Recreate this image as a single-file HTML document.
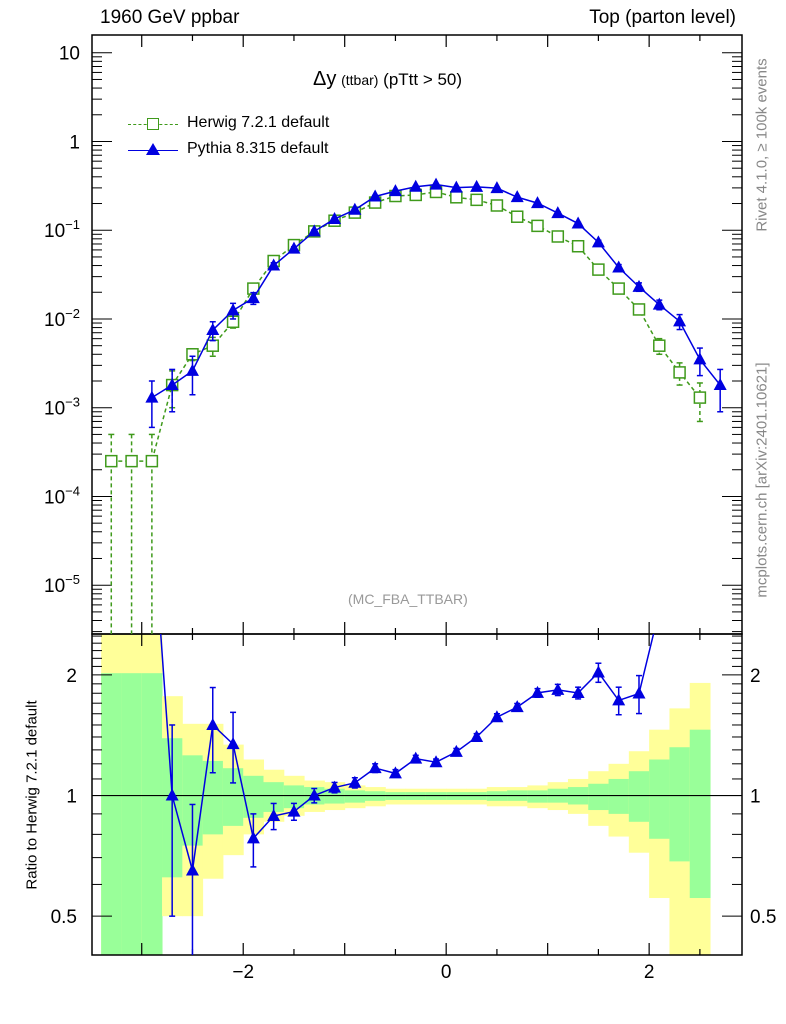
<!DOCTYPE html>
<html><head><meta charset="utf-8"><style>
body{margin:0;background:#fff;}
svg{display:block;font-family:"Liberation Sans",sans-serif;}
</style></head><body>
<svg id="c" width="786" height="1024"></svg>
<script>
const xCenters=[-3.3,-3.1,-2.9,-2.7,-2.5,-2.3,-2.1,-1.9,-1.7,-1.5,-1.3,-1.1,-0.9,-0.7,-0.5,-0.3,-0.1,0.1,0.3,0.5,0.7,0.9,1.1,1.3,1.5,1.7,1.9,2.1,2.3,2.5,2.7];
const herwig=[2.5e-4,2.5e-4,2.5e-4,1.8e-3,4.0e-3,5.0e-3,9.3e-3,0.022,0.045,0.068,0.097,0.128,0.158,0.205,0.243,0.25,0.27,0.235,0.22,0.19,0.142,0.112,0.085,0.066,0.036,0.022,0.0128,0.005,0.0025,0.0013,null];
const herwigErr=[2.5e-4,2.5e-4,2.5e-4,0.0008,0.0006,0.0012,0.0014,0.002,0.002,0.002,0.002,0.002,0.002,0.003,0.003,0.003,0.003,0.003,0.003,0.003,0.003,0.002,0.002,0.002,0.002,0.002,0.0015,0.001,0.0007,0.0006,null];
const pythia=[null,null,1.3e-3,1.8e-3,2.6e-3,7.5e-3,0.0125,0.0172,0.040,0.062,0.097,0.134,0.170,0.240,0.276,0.309,0.327,0.302,0.308,0.298,0.236,0.202,0.156,0.119,0.073,0.038,0.023,0.0145,0.0094,0.0035,0.0018];
const pythiaErr=[null,null,0.0007,0.0009,0.0012,0.0018,0.0025,0.0026,0.003,0.003,0.004,0.004,0.005,0.006,0.006,0.006,0.006,0.006,0.006,0.006,0.005,0.005,0.005,0.004,0.004,0.003,0.0025,0.0018,0.0018,0.0012,0.0009];
const bandEdges=[-3.4,-3.2,-3.0,-2.8,-2.6,-2.4,-2.2,-2.0,-1.8,-1.6,-1.4,-1.2,-1.0,-0.8,-0.6,-0.4,-0.2,0,0.2,0.4,0.6,0.8,1.0,1.2,1.4,1.6,1.8,2.0,2.2,2.4,2.6];
const greenUp=[2.02,2.02,2.02,1.39,1.26,1.22,1.17,1.12,1.08,1.06,1.05,1.04,1.03,1.025,1.02,1.02,1.02,1.02,1.02,1.025,1.03,1.03,1.04,1.05,1.07,1.10,1.15,1.23,1.32,1.46];
const greenLo=[0.3,0.3,0.3,0.625,0.75,0.80,0.84,0.88,0.91,0.93,0.95,0.955,0.96,0.97,0.975,0.975,0.975,0.975,0.975,0.97,0.97,0.96,0.96,0.95,0.92,0.90,0.86,0.78,0.685,0.555];
const yellowUp=[3,3,3,1.77,1.51,1.51,1.34,1.23,1.16,1.12,1.09,1.08,1.06,1.05,1.04,1.04,1.04,1.04,1.04,1.05,1.05,1.06,1.08,1.10,1.15,1.20,1.29,1.46,1.65,1.91];
const yellowLo=[0.3,0.3,0.3,0.5,0.5,0.62,0.71,0.80,0.86,0.89,0.91,0.92,0.93,0.94,0.95,0.95,0.95,0.95,0.95,0.94,0.94,0.93,0.92,0.90,0.84,0.79,0.72,0.555,0.3,0.3];
const yTickLabels=["10","1","10","10","10","10","10"];
const yTickExp=[1,0,-1,-2,-3,-4,-5];

const NS="http://www.w3.org/2000/svg";
const svg=document.getElementById('c');
const L=92,R=742,T=35,MB=634,RB=955;
const xMin=-3.49,xMax=2.915;
const X=v=>L+(v-xMin)/(xMax-xMin)*(R-L);
const logTop=1.2, logBot=-5.55;
const Y=v=>T+(logTop-Math.log10(v))/(logTop-logBot)*(MB-T);
const rTop=Math.log2(2.53), rBot=Math.log2(0.40);
const RY=v=>MB+(rTop-Math.log2(v))/(rTop-rBot)*(RB-MB);
function el(tag,attrs,parent){const e=document.createElementNS(NS,tag);for(const k in attrs)e.setAttribute(k,attrs[k]);(parent||svg).appendChild(e);return e;}
function txt(s,attrs,parent){const e=el('text',attrs,parent);e.textContent=s;return e;}

const defs=el('defs',{});
const cp=el('clipPath',{id:'cm'},defs);el('rect',{x:L,y:T,width:R-L,height:MB-T},cp);
const cp2=el('clipPath',{id:'cr'},defs);el('rect',{x:L,y:MB,width:R-L,height:RB-MB},cp2);

const gBands=el('g',{'clip-path':'url(#cr)'});


for(let i=0;i<greenUp.length;i++){
  const x0=X(bandEdges[i]),x1=X(bandEdges[i+1]);
  const y=el('rect',{x:x0,y:RY(yellowUp[i]),width:x1-x0+0.5,height:RY(yellowLo[i])-RY(yellowUp[i]),fill:'#ffff99'},gBands);
  
  
  const g=el('rect',{x:x0,y:RY(greenUp[i]),width:x1-x0+0.5,height:RY(greenLo[i])-RY(greenUp[i]),fill:'#99ff99'},gBands);
  
  
}
el('line',{x1:L,x2:R,y1:RY(1),y2:RY(1),stroke:'#000','stroke-width':1.2});

el('rect',{x:L,y:T,width:R-L,height:MB-T,fill:'none',stroke:'#000','stroke-width':1.5});
el('rect',{x:L,y:MB,width:R-L,height:RB-MB,fill:'none',stroke:'#000','stroke-width':1.5});

for(let e=-6;e<=1;e++){
  for(let m=1;m<=9;m++){
    const v=m*Math.pow(10,e);const y=Y(v);
    if(y<T||y>MB)continue;
    const len=m===1?20:10;
    el('line',{x1:L,x2:L+len,y1:y,y2:y,stroke:'#000','stroke-width':1});
    el('line',{x1:R,x2:R-len,y1:y,y2:y,stroke:'#000','stroke-width':1});
  }
}
yTickExp.forEach((e,i)=>{
  const y=Y(Math.pow(10,e));
  const t=txt('',{x:80,y:y+7,'font-size':19,'text-anchor':'end'});
  
  
  if(e===0||e===1){t.textContent=e===0?"1":yTickLabels[i];}
  else{
    const a=el('tspan',{},t);a.textContent=yTickLabels[i];
    const b=el('tspan',{dy:-8,'font-size':13},t);b.textContent='\u2212'+(-e);
  }
});
[0.4,0.5,0.6,0.7,0.8,0.9,1,1.1,1.2,1.3,1.4,1.5,1.6,1.7,1.8,1.9,2,2.1,2.2,2.3,2.4,2.5].forEach(v=>{
  const y=RY(v);if(y<MB||y>RB)return;
  const maj=(v===0.5||v===1||v===2);const len=maj?20:10;
  el('line',{x1:L,x2:L+len,y1:y,y2:y,stroke:'#000','stroke-width':1});
  el('line',{x1:R,x2:R-len,y1:y,y2:y,stroke:'#000','stroke-width':1});
});
[["2",2],["1",1],["0.5",0.5]].forEach(([s,v])=>{
  const a=txt(s,{x:77,y:RY(v)+7,'font-size':19,'text-anchor':'end'});
  
  
  const b=txt(s,{x:750,y:RY(v)+7,'font-size':19,'text-anchor':'start'});
  
  
});
for(let k=-7;k<=5;k++){
  const v=k*0.5;const x=X(v);if(x<L||x>R)continue;
  const len=Number.isInteger(v)?12:6;
  [[MB,MB-len],[MB,MB+len],[RB,RB-len],[T,T+len]].forEach(([a,b])=>el('line',{x1:x,x2:x,y1:a,y2:b,stroke:'#000','stroke-width':1.2}));
}
[-2,0,2].forEach(v=>{
  const t=txt(v<0?'\u2212'+(-v):String(v),{x:X(v),y:978,'font-size':19,'text-anchor':'middle'});
  
  
});

function series(vals,errs,color,dash,marker,name){
  const g=el('g',{'clip-path':'url(#cm)'});
  
  
  let pts=[];
  vals.forEach((v,i)=>{if(v==null)return;pts.push(X(xCenters[i])+','+Y(v));});
  el('polyline',{points:pts.join(' '),fill:'none',stroke:color,'stroke-width':1.5,'stroke-dasharray':dash},g);
  vals.forEach((v,i)=>{
    if(v==null)return;const x=X(xCenters[i]);
    const lo=v-errs[i]>0?Y(v-errs[i]):MB+5, hi=Y(v+errs[i]);
    el('line',{x1:x,x2:x,y1:hi,y2:lo,stroke:color,'stroke-width':1.5,'stroke-dasharray':dash},g);
    el('line',{x1:x-3,x2:x+3,y1:hi,y2:hi,stroke:color,'stroke-width':1.5},g);
    el('line',{x1:x-3,x2:x+3,y1:lo,y2:lo,stroke:color,'stroke-width':1.5},g);
    const y=Y(v);
    let m;
    if(marker==='sq'){m=el('rect',{x:x-5.5,y:y-5.5,width:11,height:11,fill:'#fff',stroke:color,'stroke-width':1.5},g);}
    else{m=el('polygon',{points:`${x},${y-7} ${x-6.5},${y+5} ${x+6.5},${y+5}`,fill:color},g);}
    
    
  });
}
series(herwig,herwigErr,'#3f9a1b','4,3','sq','herwig-series');
series(pythia,pythiaErr,'#0000e0','','tri','pythia-series');

const gr=el('g',{'clip-path':'url(#cr)'});


const ratios=[];
xCenters.forEach((c,i)=>{if(pythia[i]!=null&&herwig[i]!=null){ratios.push([i,pythia[i]/herwig[i],pythiaErr[i]/herwig[i]]);}});
el('polyline',{points:ratios.map(([i,r])=>X(xCenters[i])+','+RY(r)).join(' '),fill:'none',stroke:'#0000e0','stroke-width':1.5},gr);
ratios.forEach(([i,r,e])=>{
  if(r>2.53||r<0.4)return;
  const x=X(xCenters[i]);const hi=RY(r+e),lo=r-e>0?RY(r-e):RB+5;
  el('line',{x1:x,x2:x,y1:hi,y2:lo,stroke:'#0000e0','stroke-width':1.5},gr);
  el('line',{x1:x-3,x2:x+3,y1:hi,y2:hi,stroke:'#0000e0','stroke-width':1.5},gr);
  el('line',{x1:x-3,x2:x+3,y1:lo,y2:lo,stroke:'#0000e0','stroke-width':1.5},gr);
  const y=RY(r);
  const m=el('polygon',{points:`${x},${y-7} ${x-6.5},${y+5} ${x+6.5},${y+5}`,fill:'#0000e0'},gr);
  
  
});
</script>
<div style="position:absolute;left:0;top:0;width:786px;height:1024px;pointer-events:none;font-family:'Liberation Sans',sans-serif;">
<div style="position:absolute;left:100px;top:7px;font-size:19px;">1960 GeV ppbar</div>
<div style="position:absolute;right:50px;top:7px;font-size:19px;">Top (parton level)</div>
<div style="position:absolute;left:313px;top:68px;font-size:17px;white-space:nowrap;"><span style="font-size:20px">Δy</span> <span style="font-size:14px">(ttbar)</span> (pTtt &gt; 50)</div>
<div style="position:absolute;left:128px;top:114px;font-size:16px;width:300px;white-space:nowrap;">
<div style="position:relative;height:26px;"><span style="position:absolute;left:0;top:10px;width:50px;border-top:1.5px dashed #3f9a1b;"></span><span style="position:absolute;left:19px;top:4px;width:10px;height:10px;border:1.5px solid #3f9a1b;background:#fff;"></span><span style="position:absolute;left:59px;top:0;">Herwig 7.2.1 default</span></div>
<div style="position:relative;height:26px;"><span style="position:absolute;left:0;top:10px;width:50px;border-top:1.5px solid #0000e0;"></span><span style="position:absolute;left:18px;top:3px;width:0;height:0;border-left:7px solid transparent;border-right:7px solid transparent;border-bottom:12px solid #0000e0;"></span><span style="position:absolute;left:59px;top:0;">Pythia 8.315 default</span></div>
</div>
<div style="position:absolute;left:348px;top:591px;font-size:14px;color:#999;">(MC_FBA_TTBAR)</div>
<div style="position:absolute;left:762px;top:145px;font-size:15px;color:#888;white-space:nowrap;transform:translate(-50%,-50%) rotate(-90deg);">Rivet 4.1.0, ≥ 100k events</div>
<div style="position:absolute;left:762px;top:480px;font-size:15px;color:#888;white-space:nowrap;transform:translate(-50%,-50%) rotate(-90deg);">mcplots.cern.ch [arXiv:2401.10621]</div>
<div style="position:absolute;left:32px;top:795px;font-size:15px;white-space:nowrap;transform:translate(-50%,-50%) rotate(-90deg);">Ratio to Herwig 7.2.1 default</div>
</div>
</body></html>
